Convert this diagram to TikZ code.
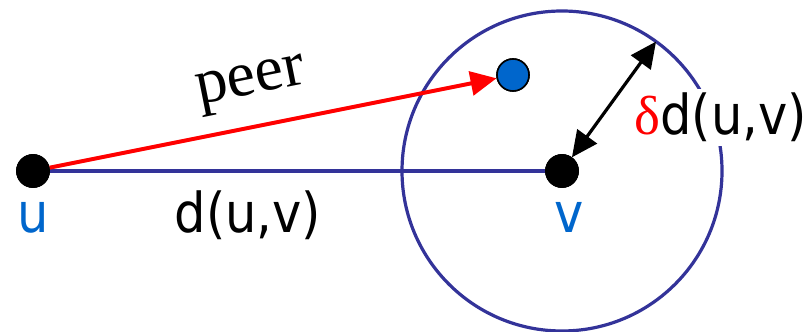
\documentclass[tikz,border=0pt]{standalone}
\usepackage{fontspec}
\setmainfont{DejaVu Sans Condensed}
\newfontfamily\peerfont{Liberation Serif}
\usetikzlibrary{positioning, arrows.meta, calc}

\definecolor{ringblue}{RGB}{51,51,153}
\definecolor{labblue}{RGB}{0,102,204}
\definecolor{peerred}{RGB}{255,0,0}

\begin{document}
\begin{tikzpicture}[
  x=0.5pt, y=0.5pt,
  font=\fontsize{27.5}{31}\selectfont,
  dot/.style={circle, draw=black, fill=black, inner sep=0pt, minimum size=16.5pt},
  pdot/.style={circle, draw=black, fill=labblue, line width=0.8pt, inner sep=0pt, minimum size=16pt},
  link/.style={draw=ringblue, line width=1.7pt},
  ring/.style={draw=ringblue, line width=1.6pt},
  rarr/.style={-{Triangle[length=13pt,width=12pt]}, draw=peerred, line width=2pt},
  darr/.style={{Triangle[length=13pt,width=12pt]}-{Triangle[length=13pt,width=12pt]}, draw=black, line width=1.6pt},
  lab/.style={inner sep=1pt, anchor=base}
]
\useasboundingbox (0,0) rectangle (806,331);

% ================= POINTS =================
\node[dot] (u) at (33,160) {};
\node[dot] (v) at (562,160) {};
\node[pdot] (peer) at (513,256) {};
\coordinate (rim) at ($(v)+(54:80pt)$);

% ================= RING AND LINKS =================
\draw[ring] (v.center) circle[radius=80pt];
\draw[link] (u) -- (v);
\draw[rarr] (u) -- (peer)
  node[pos=0.47, above=5pt, sloped, font=\peerfont\fontsize{32}{36}\selectfont] {peer};
\draw[darr] (v) -- (rim);

% ================= LABELS =================
\node[lab, text=labblue] (ulab) at (33,98) {u};
\node[lab] (dlab) at (248,98) {d(u,v)};
\node[lab, text=labblue] (vlab) at (569,98) {v};
\node[anchor=base west, fill=white, inner sep=2pt] (rlab) at (630,196)
  {{\peerfont\color{peerred}δ}d(u,v)};

% dots over the lines
\node[dot] at (u) {};
\node[dot] at (v) {};
\node[pdot] at (peer) {};
\end{tikzpicture}
\end{document}
